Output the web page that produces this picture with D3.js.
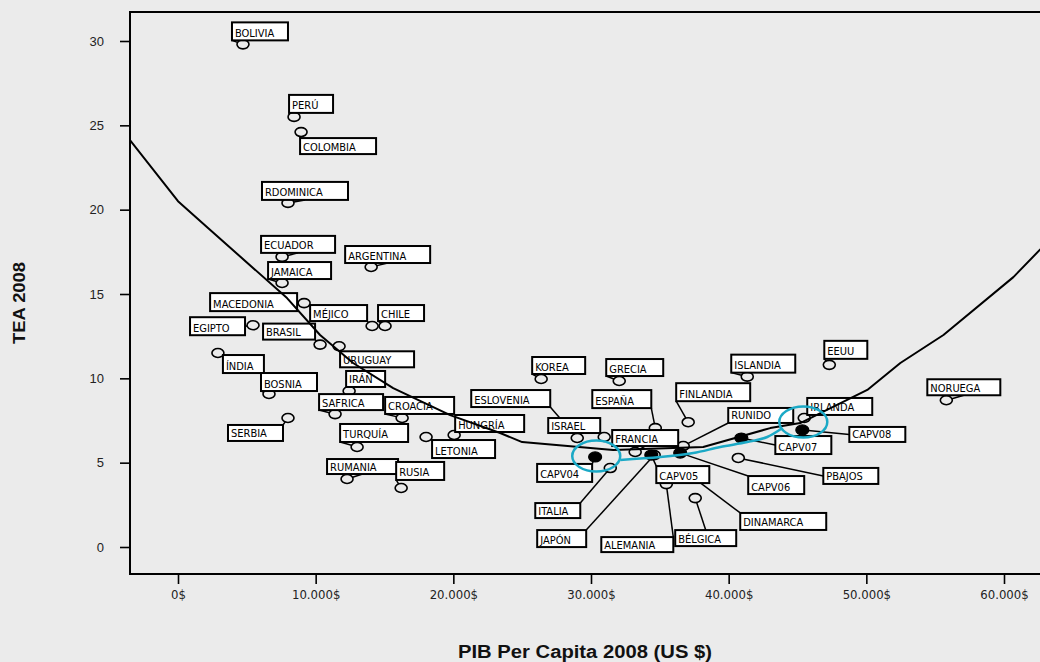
<!DOCTYPE html>
<html><head><meta charset="utf-8">
<script src="https://cdn.jsdelivr.net/npm/d3@7"></script>
<style>body{margin:0;background:#ebebeb}svg{display:block}</style>
</head><body>
<svg id="chart" width="1040" height="662"></svg>
<script>
// ---------------- DATA ----------------
const countries = ["BOLIVIA","PERÚ","COLOMBIA","RDOMINICA","ECUADOR","JAMAICA","ARGENTINA","MACEDONIA","MÉJICO","CHILE","EGIPTO","BRASIL","URUGUAY","ÍNDIA","BOSNIA","IRÁN","SAFRICA","CROACIA","SERBIA","TURQUÍA","HUNGRÍA","LETONIA","RUMANIA","RUSIA","KOREA","GRECIA","ESLOVENIA","ISRAEL","ESPAÑA","FINLANDIA","ISLANDIA","EEUU","NORUEGA","FRANCIA","ITALIA","JAPÓN","ALEMANIA","BÉLGICA","DINAMARCA","RUNIDO","IRLANDA","PBAJOS","CAPV04","CAPV05","CAPV06","CAPV07","CAPV08"];
const gdp = [4720,8430,8940,7990,7560,7560,14030,9160,14100,15040,5450,10320,11700,2900,6610,12430,11410,16280,7990,13010,20060,18020,12280,16210,26380,32050,29000,30960,34670,37060,41350,47310,55810,33210,31400,34590,35470,37570,36990,36700,45490,40700,30300,34380,36480,40920,45350];
const tea = [29.8,25.5,24.6,20.4,17.2,15.65,16.6,14.46,13.1,13.1,13.15,12.0,11.9,11.5,9.07,9.25,7.88,7.65,7.65,5.93,6.64,6.52,4.03,3.5,9.96,9.84,6.46,6.52,7.05,7.4,10.1,10.8,8.7,5.63,4.68,5.45,3.73,2.9,4.39,5.99,7.65,5.28,5.34,5.45,5.57,6.46,6.94];
const group = countries.map(c => c.startsWith("CAPV") ? "CAPV" : "país");

// fitted curve
const fitX = [-3490,0,2180,7920,10320,12720,15630,19770,23400,25000,31610,38150,43020,45200,50070,52470,55600,60680,62650];
const fitY = [24.13,20.5,18.91,14.76,12.57,10.91,9.42,7.82,6.76,6.22,5.75,5.93,7.05,7.35,9.31,10.91,12.57,16.0,17.66];

// hand-drawn highlight (cyan)
const highlightX = [32120,35030,37430,39390,41350,42800,43900];
const highlightY = [5.16,5.33,5.57,5.93,6.22,6.52,7.05];
const highlightEllipses = [{x:30380,y:5.39},{x:45420,y:7.41}];

const xTickValues = [0,10000,20000,30000,40000,50000,60000];
const xTickLabels = ["0$","10.000$","20.000$","30.000$","40.000$","50.000$","60.000$"];
const yTickValues = [0,5,10,15,20,25,30];
const xTitle = "PIB Per Capita 2008 (US $)";
const yTitle = "TEA 2008";

// ---------------- LABEL LAYOUT (pixel offsets of box from point: dx, dy, w, h, anchor) ----------------
const labelLayout = {
 "BOLIVIA":[-11,-22,56,18],"PERÚ":[-5,-22,44,18],"COLOMBIA":[-1,6,76,16],"RDOMINICA":[-26,-21,86,18],
 "ECUADOR":[-21,-21,74,17],"JAMAICA":[-14,-21,63,17],"ARGENTINA":[-26,-21,85,17],"MACEDONIA":[-94,-10,87,18],
 "MÉJICO":[-62,-21,57,16],"CHILE":[-7,-21,46,16],"EGIPTO":[-63,-8,55,18],"BRASIL":[-57,-21,52,16],
 "URUGUAY":[1,5,74,16],"ÍNDIA":[5,2,41,18],"BOSNIA":[-8,-21,56,18],"IRÁN":[-3,-20,39,16],
 "SAFRICA":[-16,-20,64,16],"CROACIA":[-17,-21,69,17],"SERBIA":[-60,7,55,16],"TURQUÍA":[-17,-23,68,18],
 "HUNGRÍA":[1,-20,69,17],"LETONIA":[6,3,63,18],"RUMANIA":[-20,-20,71,15],"RUSIA":[-5,-26,48,18],
 "KOREA":[-9,-22,53,17],"GRECIA":[-13,-22,57,17],"ESLOVENIA":[-106,-48,79,17],"ISRAEL":[-56,-19,52,15],
 "ESPAÑA":[-63,-38,59,18],"FINLANDIA":[-12,-39,74,18],"ISLANDIA":[-16,-22,64,18],"EEUU":[-5,-24,43,18],
 "NORUEGA":[-19,-21,73,16],"FRANCIA":[-23,-22,66,16],"ITALIA":[-75,35,45,15],"JAPÓN":[-117,75,49,17],
 "ALEMANIA":[-65,53,72,15],"BÉLGICA":[-20,32,61,16],"DINAMARCA":[53,40,86,17],"RUNIDO":[45,-38,65,15],
 "IRLANDA":[3,-20,65,17],"PBAJOS":[85,10,55,16,"ml"],"CAPV04":[-58,7,55,18],"CAPV05":[5,11,53,17],
 "CAPV06":[68,23,56,18],"CAPV07":[34,-2,56,18,"ml"],"CAPV08":[47,-3,56,15,"ml"]
};

// ---------------- DRAW ----------------
const svg = d3.select("#chart");
const W = 1040, H = 662;
svg.append("rect").attr("width",W).attr("height",H).attr("fill","#ebebeb");

const x = d3.scaleLinear().domain([0,60000]).range([178,1004]);
const y = d3.scaleLinear().domain([0,30]).range([547,41]);
const plot = {l:130, t:12, r:1065, b:574};

const labelFont = "'Liberation Sans Narrow','Arial Narrow','DejaVu Sans Condensed',sans-serif";
const titleFont = "'Liberation Sans',Arial,sans-serif";

// frame
svg.append("rect").attr("x",plot.l).attr("y",plot.t).attr("width",plot.r-plot.l).attr("height",plot.b-plot.t)
  .attr("fill","#ebebeb").attr("stroke","#000").attr("stroke-width",2);

// axes
const xAxis = d3.axisBottom(x).tickValues(xTickValues).tickSize(10).tickPadding(6)
  .tickFormat((d,i)=>xTickLabels[i]);
const gx = svg.append("g").attr("transform",`translate(0,${plot.b})`).call(xAxis);
gx.select(".domain").remove();
gx.selectAll(".tick line").attr("stroke","#000").attr("stroke-width",1.6);
gx.selectAll(".tick text").attr("font-family",labelFont).attr("font-size",13).attr("fill","#222");

const yAxis = d3.axisLeft(y).tickValues(yTickValues).tickSize(10).tickPadding(16);
const gy = svg.append("g").attr("transform",`translate(${plot.l},0)`).call(yAxis);
gy.select(".domain").remove();
gy.selectAll(".tick line").attr("stroke","#000").attr("stroke-width",1.6);
gy.selectAll(".tick text").attr("font-family",titleFont).attr("font-size",13).attr("fill","#222");

// titles
svg.append("text").attr("x",585).attr("y",658).attr("text-anchor","middle")
  .attr("font-family",titleFont).attr("font-weight","bold").attr("font-size",18)
  .attr("textLength",254).attr("lengthAdjust","spacingAndGlyphs")
  .attr("fill","#111").text(xTitle);
svg.append("text").attr("transform","translate(25,303) rotate(-90)").attr("text-anchor","middle")
  .attr("font-family",titleFont).attr("font-weight","bold").attr("font-size",17)
  .attr("textLength",82).attr("lengthAdjust","spacingAndGlyphs")
  .attr("fill","#111").text(yTitle);

// clip for plot area
svg.append("clipPath").attr("id","clip").append("rect")
  .attr("x",plot.l).attr("y",plot.t).attr("width",plot.r-plot.l).attr("height",plot.b-plot.t);

const data = countries.map((c,i)=>({name:c, gx:gdp[i], ty:tea[i], grp:group[i]}));
const RX = 6, RY = 4.5;

function anchorPoint(b, code){
  const xs = {l:b.x0, c:(b.x0+b.x1)/2, r:b.x1};
  const ys = {t:b.y0, m:(b.y0+b.y1)/2, b:b.y1};
  return [xs[code[1]], ys[code[0]]];
}
const codes = ["tl","tc","tr","ml","mr","bl","bc","br"];

data.forEach(d=>{
  d.px = x(d.gx); d.py = y(d.ty);
  const L = labelLayout[d.name];
  d.box = {x0:d.px+L[0], y0:d.py+L[1], x1:d.px+L[0]+L[2], y1:d.py+L[1]+L[3]};
  let code = L[4];
  if(!code){
    let best=1e9;
    codes.forEach(c=>{const a=anchorPoint(d.box,c); const dd=Math.hypot(a[0]-d.px,a[1]-d.py); if(dd<best){best=dd;code=c;}});
  }
  d.anchor = anchorPoint(d.box, code);
});

const gPlot = svg.append("g").attr("clip-path","url(#clip)");

// points (drawn first, label boxes may cover them)
gPlot.append("g").selectAll("ellipse").data(data.filter(d=>d.grp!=="CAPV")).join("ellipse")
  .attr("cx",d=>d.px).attr("cy",d=>d.py).attr("rx",RX).attr("ry",RY)
  .attr("fill","none").attr("stroke","#000").attr("stroke-width",1.6);
gPlot.append("g").selectAll("ellipse").data(data.filter(d=>d.grp==="CAPV")).join("ellipse")
  .attr("cx",d=>d.px).attr("cy",d=>d.py).attr("rx",RX+0.5).attr("ry",RY+0.5)
  .attr("fill","#000").attr("stroke","#000").attr("stroke-width",1.2);

// leaders
gPlot.append("g").selectAll("line").data(data).join("line")
  .each(function(d){
    const dx = d.anchor[0]-d.px, dy = d.anchor[1]-d.py, L = Math.hypot(dx,dy);
    const ux = dx/L, uy = dy/L;
    const t = 1/Math.sqrt((ux/RX)**2+(uy/RY)**2);
    const s = d3.select(this);
    if(L<=t){ s.remove(); return; }
    s.attr("x1",d.px+ux*t).attr("y1",d.py+uy*t).attr("x2",d.anchor[0]).attr("y2",d.anchor[1]);
  })
  .attr("stroke","#000").attr("stroke-width",1.5);

// label boxes
const gl = gPlot.append("g").selectAll("g").data(data).join("g");
gl.append("rect").attr("x",d=>d.box.x0).attr("y",d=>d.box.y0)
  .attr("width",d=>d.box.x1-d.box.x0).attr("height",d=>d.box.y1-d.box.y0)
  .attr("fill","#fff").attr("stroke","#000").attr("stroke-width",2);
gl.append("text").attr("x",d=>d.box.x0+3).attr("y",d=>d.box.y1-3.5)
  .attr("font-family",labelFont).attr("font-size",11).attr("fill","#000").text(d=>d.name);

// fit line
const line = d3.line().x(d=>x(d[0])).y(d=>y(d[1]));
gPlot.append("path").datum(fitX.map((v,i)=>[v,fitY[i]])).attr("d",line)
  .attr("fill","none").attr("stroke","#000").attr("stroke-width",2).attr("stroke-linejoin","round");

// cyan highlight
const cyan = "#1ba9c6";
gPlot.append("path").datum(highlightX.map((v,i)=>[v,highlightY[i]])).attr("d",line.curve(d3.curveCatmullRom))
  .attr("fill","none").attr("stroke",cyan).attr("stroke-width",2.5);
gPlot.append("g").selectAll("ellipse").data(highlightEllipses).join("ellipse")
  .attr("cx",d=>x(d.x)).attr("cy",d=>y(d.y)).attr("rx",24).attr("ry",15.5)
  .attr("fill","none").attr("stroke",cyan).attr("stroke-width",2.5);
</script>
</body></html>
